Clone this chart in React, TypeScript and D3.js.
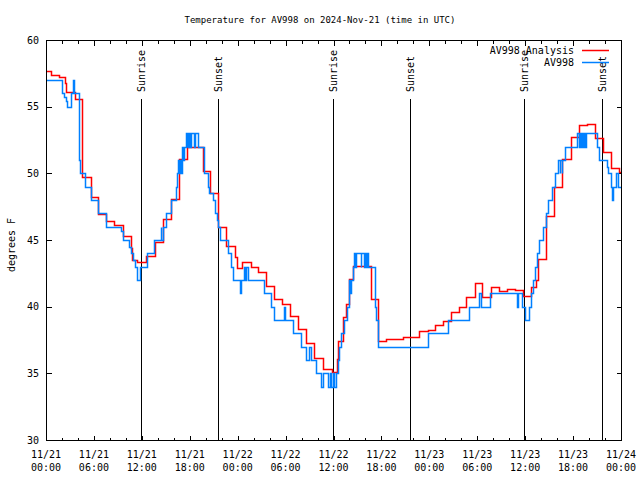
import React from 'react';
import * as d3 from 'd3';

const TITLE = 'Temperature for AV998 on 2024-Nov-21 (time in UTC)';
const Y_LABEL = 'degrees F';
const SERIES_NAMES = ['AV998 Analysis', 'AV998'];
const SERIES_COLORS = ['#ff0000', '#0080ff'];
const START_MS = Date.UTC(2024, 10, 21, 0, 0);
const SPAN_HOURS = 72;
const Y_DOMAIN = [30, 60];
const Y_TICKS = [30, 35, 40, 45, 50, 55, 60];
const X_MAJOR_HOURS = [0, 6, 12, 18, 24, 30, 36, 42, 48, 54, 60, 66, 72];
const X_MINOR_HOURS = [2, 4, 8, 10, 14, 16, 20, 22, 26, 28, 32, 34, 38, 40, 44, 46, 50, 52, 56, 58, 62, 64, 68, 70];

const SUN_LABELS = ['Sunrise', 'Sunset', 'Sunrise', 'Sunset', 'Sunrise', 'Sunset'];
const SUN_HOURS = [11.85, 21.6, 35.88, 45.58, 59.9, 69.6];

const ANALYSIS_HOURS = [
  0, 0.67, 1.58, 2.35, 2.52, 3.6, 4.55, 5.6, 6.56, 7.5, 8.5, 9.66, 10.6, 10.75, 11.4,
  12.5, 13.6, 14.7, 15.6, 16.6, 17.6, 19.6, 20.55, 21.5, 22.6, 23.65, 23.9, 24.6, 25.65,
  26.6, 27.6, 28.6, 29.6, 30.6, 31.5, 32.6, 33.6, 34.65, 35.8, 36.45, 36.6, 37.2, 37.6,
  37.9, 38.5, 40.7, 41.55, 42.6, 43.65, 44.7, 45.6, 46.7, 47.8, 48.7, 49.7, 50.7, 51.7,
  52.65, 53.7, 54.65, 55.7, 56.7, 57.7, 58.7, 59.7, 60.7, 61.3, 61.65, 62.6, 63.6, 64.65,
  65.7, 66.8, 67.8, 68.7, 69.7, 70.7, 71.7,
];
const ANALYSIS_TEMPS = [
  57.65, 57.4, 57.25, 56.8, 56.1, 55.6, 49.7, 48.2, 46.95, 46.4, 46.1, 45.3, 44.4, 43.5, 43.38,
  43.82, 44.87, 46.55, 48.05, 51.05, 52.0, 50.15, 48.5, 45.95, 44.55, 43.75, 42.87, 43.33, 42.95,
  42.58, 41.55, 40.55, 40.2, 39.3, 38.33, 37.25, 36.15, 35.3, 35.1, 36.1, 37.4, 39.25, 40.2,
  42.05, 43.05, 40.6, 37.4, 37.6, 37.55, 37.7, 37.75, 38.17, 38.25, 38.6, 38.95, 39.6, 40.0,
  40.7, 41.75, 40.7, 41.45, 41.18, 41.33, 41.25, 40.8, 41.5, 42.0, 43.6, 46.8, 48.95, 51.1,
  52.7, 53.6, 53.68, 52.63, 51.63, 50.4, 50.13,
];

const OBS_HOURS = [
  0, 2.04, 2.26, 2.47, 2.6, 3.1, 3.17, 3.35, 3.47, 4.1, 4.18, 4.26, 4.89, 5.6, 6.56, 7.49,
  9.37, 9.66, 10.41, 10.6, 10.85, 11.2, 11.35, 11.75, 12.6, 13.55, 14.35, 14.45, 14.6, 15.0,
  15.6, 16.3, 16.45, 16.55, 16.65, 16.75, 16.85, 17.0, 17.15, 17.3, 17.5, 17.6, 17.7, 17.8,
  17.9, 18.0, 18.1, 18.5, 18.6, 19.0, 19.75, 20.25, 20.47, 20.85, 21.1, 21.4, 21.6, 21.85,
  22.75, 23.15, 23.45, 24.34, 24.46, 24.84, 24.96, 25.08, 25.25, 27.35, 28.19, 28.6, 29.85,
  29.98, 30.98, 31.95, 32.58, 32.99, 33.2, 33.83, 34.46, 34.66, 35.29, 35.5, 35.71, 35.91,
  36.0, 36.34, 36.54, 36.75, 36.97, 37.26, 37.63, 37.88, 37.97, 38.05, 38.13, 38.5, 38.6,
  38.7, 38.8, 39.4, 39.5, 39.8, 39.9, 40.1, 40.2, 40.3, 41.14, 41.36, 41.56, 47.83, 50.34,
  52.97, 54.23, 54.53, 55.57, 58.92, 59.12, 59.55, 59.96, 60.5, 60.75, 61.0, 61.2, 61.45,
  61.75, 62.25, 62.6, 62.9, 63.3, 63.7, 64.1, 64.3, 64.4, 64.55, 64.65, 65.0, 66.45, 66.75,
  66.85, 67.0, 67.1, 67.3, 67.4, 67.55, 67.65, 68.95, 69.24, 70.2, 70.4, 70.7, 70.85, 70.95,
  71.38, 71.66,
];
const OBS_TEMPS = [
  57, 56, 55.7, 55.4, 55, 55.4, 56, 57, 56, 53, 51, 50, 49, 48, 47, 46,
  45.7, 45, 44.5, 44, 43.5, 43, 42, 43, 44, 45, 46, 45, 46, 47,
  48, 49, 50, 51, 50, 51, 50, 52, 51, 52, 53, 52, 53, 52,
  53, 52, 53, 52, 53, 52, 50, 49, 48.5, 48, 47, 46.5, 46, 45,
  44, 43, 42, 41, 42, 43, 42, 43, 42, 41, 40, 39, 40,
  39, 38, 37, 36, 37, 36, 35, 34, 35, 34, 35, 34, 35,
  34, 35, 36, 37, 38, 39, 40, 41, 42, 41, 42, 43, 44,
  43, 44, 43, 44, 43, 44, 43, 44, 43, 40, 39, 37, 38, 39,
  40, 41, 40, 41, 40, 41, 40, 39, 40, 41, 42, 43, 44,
  45, 46, 47, 48, 49, 50, 51, 50, 51, 50, 51, 52, 53, 52,
  53, 52, 53, 52, 53, 52, 53, 52, 51, 50.5, 50, 49, 48, 49,
  50, 49,
];

const W = 640;
const H = 480;
const PLOT = { left: 46, right: 621, top: 40, bottom: 440 };
const FONT = '"DejaVu Sans Mono", "Liberation Mono", monospace';

const hourToDate = (h: number) => new Date(START_MS + h * 3600 * 1000);

export default function App() {
  const x = d3
    .scaleUtc()
    .domain([hourToDate(0), hourToDate(SPAN_HOURS)])
    .range([PLOT.left, PLOT.right]);
  const y = d3.scaleLinear().domain(Y_DOMAIN).range([PLOT.bottom, PLOT.top]);

  const toSeries = (hours: number[], temps: number[]) => {
    const pts: [Date, number][] = hours.map((h, i) => [hourToDate(h), temps[i]]);
    pts.push([hourToDate(SPAN_HOURS), temps[temps.length - 1]]);
    return pts;
  };
  const line = d3
    .line<[Date, number]>()
    .x((d) => Math.round(x(d[0])) + 0.5)
    .y((d) => Math.round(y(d[1])) + 0.5)
    .curve(d3.curveStepAfter);

  const analysisPath = line(toSeries(ANALYSIS_HOURS, ANALYSIS_TEMPS)) || '';
  const obsPath = line(toSeries(OBS_HOURS, OBS_TEMPS)) || '';
  const fmtDay = d3.utcFormat('%m/%d');
  const fmtTime = d3.utcFormat('%H:%M');

  const px = (v: number) => Math.round(v) + 0.5;

  return (
    <svg
      width={W}
      height={H}
      style={{ position: 'absolute', left: 0, top: 0, background: '#fff' }}
      fontFamily={FONT}
    >
      <rect x={0} y={0} width={W} height={H} fill="#fff" />
      <text x={320} y={20} textAnchor="middle" dominantBaseline="central" fontSize={9}>
        {TITLE}
      </text>
      <text
        transform={`translate(11,245) rotate(-90)`}
        textAnchor="middle"
        dominantBaseline="central"
        fontSize={10}
      >
        {Y_LABEL}
      </text>

      <g shapeRendering="crispEdges" stroke="#000">
        {Y_TICKS.map((t) => (
          <g key={'y' + t}>
            <line x1={px(PLOT.left)} x2={px(PLOT.left) + 5} y1={px(y(t))} y2={px(y(t))} />
            <line x1={px(PLOT.right)} x2={px(PLOT.right) - 5} y1={px(y(t))} y2={px(y(t))} />
          </g>
        ))}
        {X_MAJOR_HOURS.map((h) => {
          const xx = px(x(hourToDate(h)));
          return (
            <g key={'xm' + h}>
              <line x1={xx} x2={xx} y1={px(PLOT.bottom)} y2={px(PLOT.bottom) - 5} />
              <line x1={xx} x2={xx} y1={px(PLOT.top)} y2={px(PLOT.top) + 5} />
            </g>
          );
        })}
        {X_MINOR_HOURS.map((h) => {
          const xx = px(x(hourToDate(h)));
          return (
            <g key={'xn' + h}>
              <line x1={xx} x2={xx} y1={px(PLOT.bottom)} y2={px(PLOT.bottom) - 3} />
              <line x1={xx} x2={xx} y1={px(PLOT.top)} y2={px(PLOT.top) + 3} />
            </g>
          );
        })}
      </g>
      {Y_TICKS.map((t) => (
        <text
          key={'yl' + t}
          x={39}
          y={y(t)}
          textAnchor="end"
          dominantBaseline="central"
          fontSize={10}
        >
          {t}
        </text>
      ))}
      {X_MAJOR_HOURS.map((h) => {
        const d = hourToDate(h);
        return (
          <g key={'xl' + h} fontSize={10} textAnchor="middle">
            <text x={x(d)} y={454} dominantBaseline="central">
              {fmtDay(d)}
            </text>
            <text x={x(d)} y={467} dominantBaseline="central">
              {fmtTime(d)}
            </text>
          </g>
        );
      })}

      {SUN_HOURS.map((h, i) => {
        const xx = px(x(hourToDate(h)));
        return (
          <g key={'sun' + i}>
            <line
              x1={xx}
              x2={xx}
              y1={99}
              y2={PLOT.bottom}
              stroke="#000"
              shapeRendering="crispEdges"
            />
            <text
              transform={`translate(${xx},92) rotate(-90)`}
              dy="0.35em"
              textAnchor="start"
              fontSize={10}
            >
              {SUN_LABELS[i]}
            </text>
          </g>
        );
      })}

      <path d={analysisPath} fill="none" stroke={SERIES_COLORS[0]} strokeWidth={1.5} />
      <path d={obsPath} fill="none" stroke={SERIES_COLORS[1]} strokeWidth={1.5} />

      {SERIES_NAMES.map((name, i) => {
        const ly = Math.round(50 + i * 12.3) + 0.5;
        return (
          <g key={'lg' + i}>
            <text x={574} y={ly} textAnchor="end" dominantBaseline="central" fontSize={10}>
              {name}
            </text>
            <line x1={582} x2={609} y1={ly} y2={ly} stroke={SERIES_COLORS[i]} strokeWidth={1.5} />
          </g>
        );
      })}

      <rect
        x={px(PLOT.left)}
        y={px(PLOT.top)}
        width={Math.round(PLOT.right) - Math.round(PLOT.left)}
        height={Math.round(PLOT.bottom) - Math.round(PLOT.top)}
        fill="none"
        stroke="#000"
        shapeRendering="crispEdges"
      />
    </svg>
  );
}
